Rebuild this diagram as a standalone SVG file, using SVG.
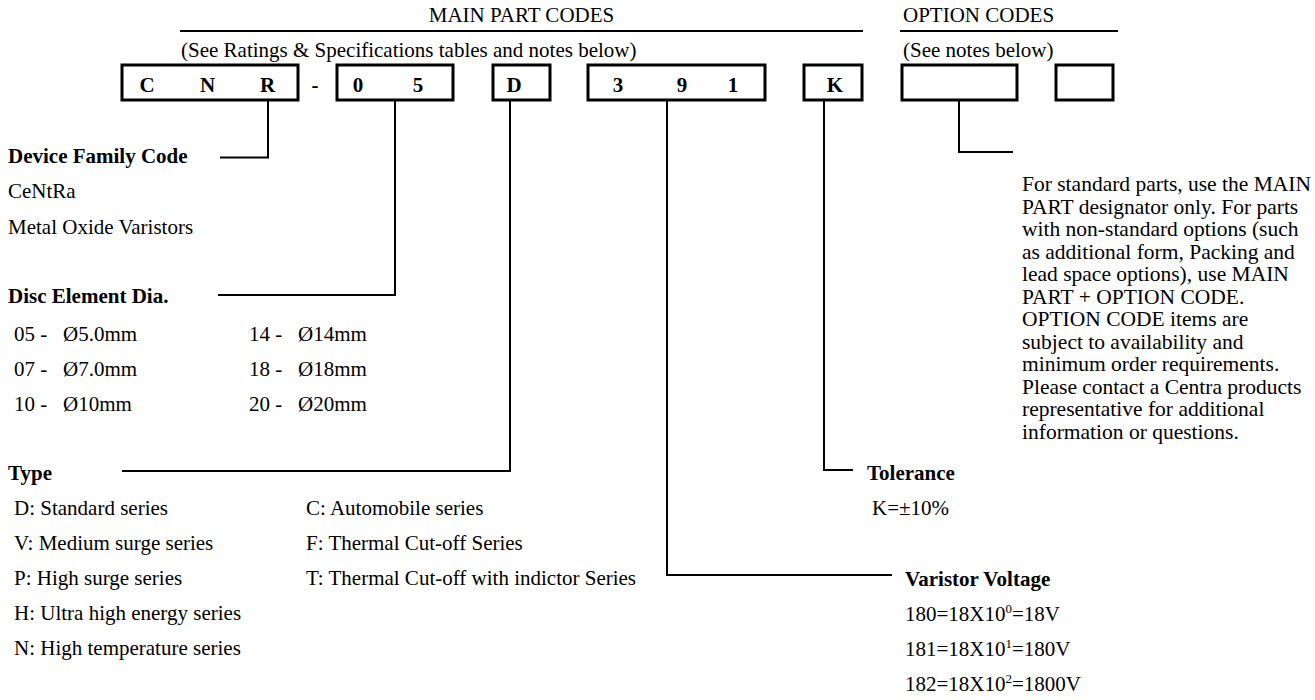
<svg xmlns="http://www.w3.org/2000/svg" width="1315" height="700" viewBox="0 0 1315 700">
<style>
text{font-family:"Liberation Serif","Times New Roman",serif;font-size:21px;fill:#000}
.b{font-weight:bold}
.c{text-anchor:middle}
.n{font-size:21.5px}
.box{fill:none;stroke:#000;stroke-width:3}
.ln{fill:none;stroke:#000;stroke-width:2}
.sup{font-size:13px}
</style>
<rect width="1315" height="700" fill="#fff"/>
<g id="headers">
<line class="ln" x1="180" y1="31" x2="863" y2="31"/>
<line class="ln" x1="900" y1="31" x2="1118" y2="31"/>
<text x="521.5" y="22" class="c">MAIN PART CODES</text>
<text x="903" y="22">OPTION CODES</text>
<text x="181" y="57">(See Ratings &amp; Specifications tables and notes below)</text>
<text x="903" y="57">(See notes below)</text>
</g>
<g id="box-cnr"><rect class="box" x="122" y="65" width="176" height="35"/>
<text class="b c" x="147" y="92">C</text><text class="b c" x="207.5" y="92">N</text><text class="b c" x="267.5" y="92">R</text></g>
<g id="dash"><text class="b c" x="315" y="92">-</text></g>
<g id="box-05"><rect class="box" x="337" y="65" width="116" height="35"/>
<text class="b c" x="358" y="92">0</text><text class="b c" x="418" y="92">5</text></g>
<g id="box-d"><rect class="box" x="493" y="65" width="57" height="35"/>
<text class="b c" x="514" y="92">D</text></g>
<g id="box-391"><rect class="box" x="588" y="65" width="177" height="35"/>
<text class="b c" x="618" y="92">3</text><text class="b c" x="682" y="92">9</text><text class="b c" x="733" y="92">1</text></g>
<g id="box-k"><rect class="box" x="804" y="65" width="58" height="35"/>
<text class="b c" x="835" y="92">K</text></g>
<g id="box-opt1"><rect class="box" x="902" y="65" width="115" height="35"/></g>
<g id="box-opt2"><rect class="box" x="1056" y="65" width="57" height="35"/></g>
<g id="connectors">
<polyline class="ln" points="268,100 268,157.5 220,157.5"/>
<polyline class="ln" points="395,100 395,295 218,295"/>
<polyline class="ln" points="510,100 510,471 122,471"/>
<polyline class="ln" points="667,100 667,575 892,575"/>
<polyline class="ln" points="824,100 824,470 853,470"/>
<polyline class="ln" points="959,100 959,152 1013,152"/>
</g>
<g id="family">
<text class="b" x="8" y="163">Device Family Code</text>
<text x="8" y="198">CeNtRa</text>
<text x="8" y="234">Metal Oxide Varistors</text>
</g>
<g id="disc">
<text class="b" x="8" y="303">Disc Element Dia.</text>
<text x="14" y="341">05 -</text><text x="63" y="341">Ø5.0mm</text>
<text x="14" y="376">07 -</text><text x="63" y="376">Ø7.0mm</text>
<text x="14" y="411">10 -</text><text x="63" y="411">Ø10mm</text>
<text x="249" y="341">14 -</text><text x="298" y="341">Ø14mm</text>
<text x="249" y="376">18 -</text><text x="298" y="376">Ø18mm</text>
<text x="249" y="411">20 -</text><text x="298" y="411">Ø20mm</text>
</g>
<g id="type">
<text class="b" x="8" y="480">Type</text>
<text x="14" y="515">D: Standard series</text>
<text x="14" y="550">V: Medium surge series</text>
<text x="14" y="585">P: High surge series</text>
<text x="14" y="620">H: Ultra high energy series</text>
<text x="14" y="655">N: High temperature series</text>
<text x="306" y="515">C: Automobile series</text>
<text x="306" y="550">F: Thermal Cut-off Series</text>
<text x="306" y="585">T: Thermal Cut-off with indictor Series</text>
</g>
<g id="tolerance">
<text class="b" x="867" y="480">Tolerance</text>
<text x="872" y="515">K=±10%</text>
</g>
<g id="voltage">
<text class="b" x="905" y="586">Varistor Voltage</text>
<text x="905" y="621">180=18X10<tspan class="sup" dy="-8">0</tspan><tspan dy="8">=18V</tspan></text>
<text x="905" y="656">181=18X10<tspan class="sup" dy="-8">1</tspan><tspan dy="8">=180V</tspan></text>
<text x="905" y="691">182=18X10<tspan class="sup" dy="-8">2</tspan><tspan dy="8">=1800V</tspan></text>
</g>
<g id="option-note" class="n">
<text class="n" x="1022" y="191">For standard parts, use the MAIN</text>
<text class="n" x="1022" y="213.5">PART designator only. For parts</text>
<text class="n" x="1022" y="236">with non-standard options (such</text>
<text class="n" x="1022" y="258.5">as additional form, Packing and</text>
<text class="n" x="1022" y="281">lead space options), use MAIN</text>
<text class="n" x="1022" y="303.5">PART + OPTION CODE.</text>
<text class="n" x="1022" y="326">OPTION CODE items are</text>
<text class="n" x="1022" y="348.5">subject to availability and</text>
<text class="n" x="1022" y="371">minimum order requirements.</text>
<text class="n" x="1022" y="393.5">Please contact a Centra products</text>
<text class="n" x="1022" y="416">representative  for additional</text>
<text class="n" x="1022" y="438.5">information or questions.</text>
</g>
</svg>
